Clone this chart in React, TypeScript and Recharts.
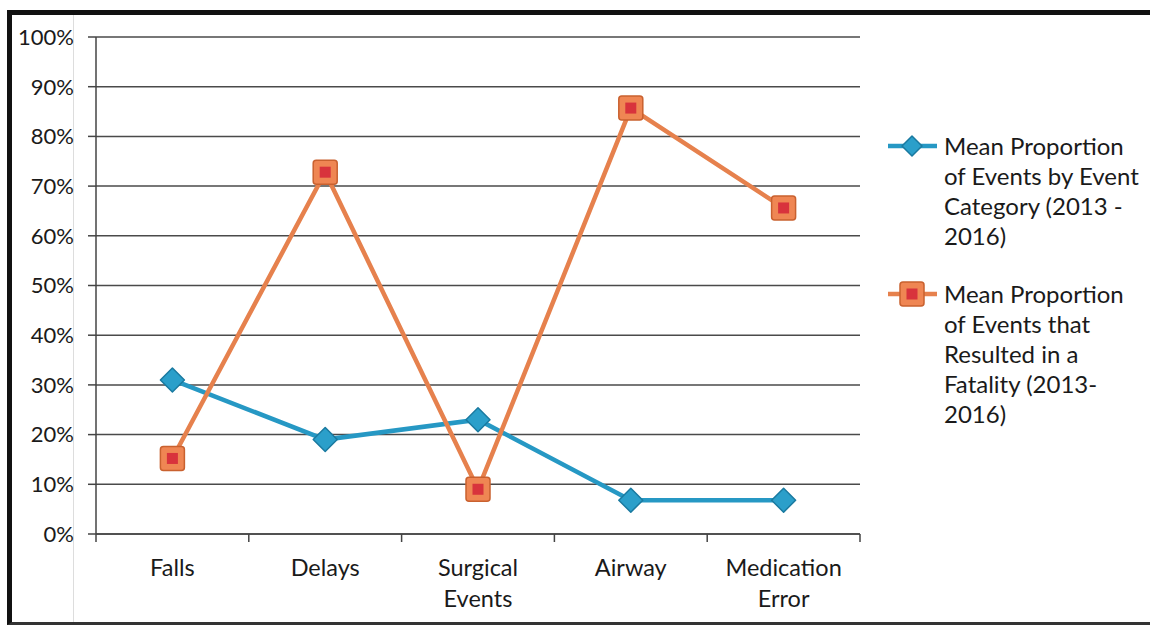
import React from 'react';
import { CartesianGrid, ComposedChart, Line, XAxis, YAxis } from 'recharts';

const categories = ['Falls', 'Delays', 'Surgical Events', 'Airway', 'Medication Error'];
const byCategory = [0.31, 0.19, 0.23, 0.068, 0.068];
const fatality = [0.152, 0.728, 0.09, 0.857, 0.656];
const yTicks = [0, 0.1, 0.2, 0.3, 0.4, 0.5, 0.6, 0.7, 0.8, 0.9, 1];
const xTicks = [0, 0.5, 1, 1.5, 2, 2.5, 3, 3.5, 4, 4.5, 5];
const seriesNames = [
  ['Mean Proportion', 'of Events by Event', 'Category (2013 -', '2016)'],
  ['Mean Proportion', 'of Events that', 'Resulted in a', 'Fatality (2013-', '2016)'],
];

const data = categories.map((name, i) => ({
  pos: i + 0.5,
  name,
  byCategory: byCategory[i],
  fatality: fatality[i],
}));

const FONT = 'Lato, "Open Sans", sans-serif';
const BLUE = '#2698c4';
const ORANGE = '#e6814d';

function Diamond({ cx, cy, size = 12 }: any) {
  if (cx == null || cy == null) return null;
  return (
    <polygon
      points={`${cx},${cy - size} ${cx + size},${cy} ${cx},${cy + size} ${cx - size},${cy}`}
      fill="#2b9fca" stroke="#1a7aa0" strokeWidth={1.5} strokeLinejoin="round"
    />
  );
}

function SquareDot({ cx, cy }: any) {
  if (cx == null || cy == null) return null;
  return (
    <g>
      <rect x={cx - 12} y={cy - 12} width={24} height={24} rx={3} fill="#ef8653" stroke="#c9612f" strokeWidth={1.5} />
      <rect x={cx - 5.5} y={cy - 5.5} width={11} height={11} fill="#d8333c" />
    </g>
  );
}

function XTick({ x, y, payload }: any) {
  const v = payload.value;
  if (Number.isInteger(v)) {
    return <line x1={x} x2={x} y1={y} y2={y + 8} stroke="#444" strokeWidth={1.5} />;
  }
  const words = categories[Math.floor(v)].split(' ');
  return (
    <text x={x} y={y} textAnchor="middle" fill="#1a1a1a" fontSize={23.5} fontFamily={FONT}>
      {words.map((w, i) => (
        <tspan key={i} x={x} dy={i === 0 ? 42 : 31}>{w}</tspan>
      ))}
    </text>
  );
}

function LegendBox() {
  return (
    <div style={{ fontFamily: FONT, fontSize: 24, lineHeight: '30px', color: '#1a1a1a' }}>
      {seriesNames.map((lines, i) => (
        <div key={i} style={{ display: 'flex', marginBottom: i === 0 ? 28 : 0 }}>
          <svg width={59} height={30} style={{ flexShrink: 0 }}>
            <line x1={3} x2={52} y1={15} y2={15} stroke={i === 0 ? BLUE : ORANGE} strokeWidth={4.5} />
            {i === 0 ? <Diamond cx={27} cy={15} size={10} /> : <SquareDot cx={27} cy={15} />}
          </svg>
          <div style={{ textAlign: 'left', whiteSpace: 'nowrap' }}>
            {lines.map((l, j) => <div key={j}>{l}</div>)}
          </div>
        </div>
      ))}
    </div>
  );
}

export default function App() {
  return (
    <div style={{ position: 'absolute', left: 0, top: 0, width: 1150, height: 627, background: '#fff', overflow: 'hidden' }}>
      <div style={{
        position: 'absolute', left: 7, top: 10, width: 1143, height: 607,
        borderLeft: '5px solid #111', borderTop: '5px solid #111', borderBottom: '3px solid #333',
      }} />
      <div style={{ position: 'absolute', left: 73, top: 15, width: 1, height: 607, background: '#ddd' }} />
      <div style={{ position: 'absolute', left: 0, top: 0 }}>
        <ComposedChart width={1150} height={627} data={data} margin={{ top: 37, right: 290, left: 20, bottom: 0 }}>
          <CartesianGrid vertical={false} stroke="#4a4a4a" strokeWidth={1.5} />
          <XAxis
            dataKey="pos" type="number" domain={[0, 5]} ticks={xTicks} interval={0}
            tick={<XTick />} tickLine={false} tickSize={0} tickMargin={0}
            axisLine={{ stroke: '#444', strokeWidth: 1.5 }} height={93}
          />
          <YAxis
            domain={[0, 1]} ticks={yTicks} interval={0} width={76}
            tickFormatter={(v: number) => `${Math.round(v * 100)}%`}
            tick={{ fill: '#1a1a1a', fontSize: 22, fontFamily: FONT }}
            tickSize={8} tickMargin={14}
            tickLine={{ stroke: '#444', strokeWidth: 1.5 }}
            axisLine={{ stroke: '#444', strokeWidth: 1.5 }}
          />
          <Line
            dataKey="byCategory" name="Mean Proportion of Events by Event Category (2013 - 2016)"
            stroke={BLUE} strokeWidth={4.5} dot={<Diamond />} activeDot={false}
            isAnimationActive={false}
          />
          <Line
            dataKey="fatality" name="Mean Proportion of Events that Resulted in a Fatality (2013-2016)"
            stroke={ORANGE} strokeWidth={4.5} dot={<SquareDot />} activeDot={false}
            isAnimationActive={false}
          />
        </ComposedChart>
      </div>
      <div style={{ position: 'absolute', left: 885, top: 131, width: 265 }}>
        <LegendBox />
      </div>
    </div>
  );
}
